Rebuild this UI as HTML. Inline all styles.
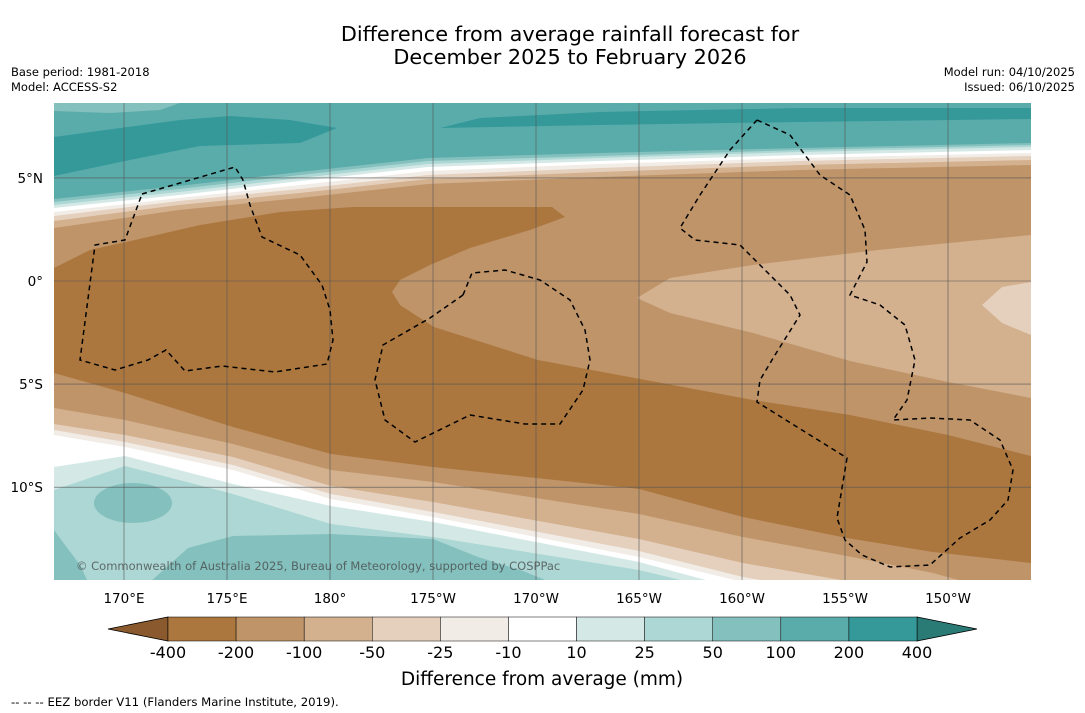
<!DOCTYPE html>
<html><head><meta charset="utf-8"><style>
body{margin:0;background:#fff;}
svg{display:block;font-family:"DejaVu Sans","Liberation Sans",sans-serif;}
</style></head><body>
<svg id="s" width="1085" height="713" viewBox="0 0 1085 713" xmlns="http://www.w3.org/2000/svg">
<defs><clipPath id="mc"><rect x="54" y="103" width="977" height="477"/></clipPath></defs>
<text x="570" y="41" text-anchor="middle" font-size="20.8" fill="#000">Difference from average rainfall forecast for</text>
<text x="570" y="64" text-anchor="middle" font-size="20.8" fill="#000">December 2025 to February 2026</text>
<text x="11" y="76" font-size="11.5">Base period: 1981-2018</text>
<text x="11" y="91" font-size="11.5">Model: ACCESS-S2</text>
<text x="1075" y="76" font-size="11.5" text-anchor="end">Model run: 04/10/2025</text>
<text x="1075" y="91" font-size="11.5" text-anchor="end">Issued: 06/10/2025</text>
<g id="map" clip-path="url(#mc)"></g>
<g id="ax"></g>
<g id="cb"></g>
<text x="542" y="685" text-anchor="middle" font-size="18.5">Difference from average (mm)</text>
<text x="11" y="706" font-size="11.7">--  --  -- EEZ border V11 (Flanders Marine Institute, 2019).</text>
</svg>
<script>
// colorbar data
const levels = ['-400','-200','-100','-50','-25','-10','10','25','50','100','200','400'];
const binColors = ['#ab773f','#bf9469','#d3b08e','#e4d0bd','#f2ece6','#ffffff','#d4e9e6','#acd7d4','#84c0bd','#5aacaa','#35999a'];
// axis ticks
const lonTicks = [170,175,180,-175,-170,-165,-160,-155,-150];
const lonLabels = ['170°E','175°E','180°','175°W','170°W','165°W','160°W','155°W','150°W'];
const latTicks = [5,0,-5,-10];
const latLabels = ['5°N','0°','5°S','10°S'];
// contour fronts (northern wet/dry transition)
const frontX = [54,179,300,428,600,800,1031];
const frontY = [
 [199,186,172,158,153,148,143],
 [202,189,175,161,156,150,145],
 [205,192,178,164,158,152,147],
 [208,195,181,167,161,155,150],
 [212,198,185,171,164,158,153],
 [216,201,189,175,168,161,156],
 [221,205,193,179,172,165,160],
 [228,210,198,184,177,170,165]];
const frontColors = ['#84c0bd','#acd7d4','#d4e9e6','#ffffff','#f2ece6','#e4d0bd','#d3b08e','#bf9469'];
// southern transition
const southX = [54,125,233,331,433,639,743,847,933,1031];
const southY = [
 [373,393,427,454,467,489,517,538,552,563],
 [408,420,444,470,482,514,537,556,573,600],
 [424,435,457,486,502,539,563,581,600,620],
 [430,442,465,494,512,551,577,595,615,635],
 [435,447,470,499,517,557,582,600,620,640],
 [467,456,484,506,522,562,590,610,630,650],
 [490,466,494,524,537,570,595,615,640,660]];
const southColors = ['#bf9469','#d3b08e','#e4d0bd','#f2ece6','#ffffff','#d4e9e6','#acd7d4'];
const darkCore = [[54,268],[90,250],[135,240],[200,225],[280,212],[353,207],[552,207],[565,217],[530,230],[470,248],[430,265],[400,280],[392,292],[400,305],[434,327],[538,360],[753,400],[850,415],[948,435],[1031,456],[1031,700],[54,700]];
const lens1 = [[637,298],[670,278],[753,265],[878,250],[1031,235],[1031,398],[948,382],[850,361],[753,333],[670,313]];
const lens2 = [[982,305],[1002,287],[1031,282],[1031,335],[1002,323]];
const tealDarkL = [[54,137],[120,128],[180,120],[230,116],[290,120],[337,128],[300,143],[200,146],[130,160],[54,176]];
const tealDarkR = [[440,128],[480,118],[600,112],[800,108],[1031,108],[1031,119],[800,122],[600,125]];
const tealLightTL = [[54,103],[180,103],[160,110],[110,113],[54,111]];
const wet84A = [[54,530],[65,545],[80,565],[88,582],[54,582]];
const wet84B = [[150,582],[188,548],[233,536],[331,534],[433,539],[478,557],[523,571],[550,582]];
const eezL = [[142,194],[180,183],[235,167],[243,180],[250,205],[262,237],[300,255],[322,285],[330,310],[333,340],[327,364],[275,372],[222,366],[185,371],[166,350],[148,360],[115,370],[80,360],[95,245],[125,240],[142,194]];
const eezM = [[463,295],[472,273],[505,270],[540,280],[570,300],[585,330],[590,360],[583,390],[560,424],[525,424],[470,415],[415,442],[385,420],[375,380],[383,345],[430,318],[463,295]];
const eezR = [[757,120],[790,135],[820,175],[850,195],[865,230],[867,262],[850,295],[880,305],[905,325],[915,360],[907,400],[893,420],[930,418],[970,420],[1000,440],[1013,470],[1008,500],[990,520],[960,538],[930,565],[890,567],[862,555],[845,540],[837,518],[847,458],[757,402],[760,380],[775,355],[800,315],[790,295],[760,265],[740,245],[695,240],[680,228],[700,195],[730,150],[757,120]];

const NS='http://www.w3.org/2000/svg';
const map=document.getElementById('map'), ax=document.getElementById('ax'), cb=document.getElementById('cb');
function mk(tag,attrs,parent){const e=document.createElementNS(NS,tag);for(const k in attrs)e.setAttribute(k,attrs[k]);parent.appendChild(e);return e;}
function pts(a){return a.map(p=>p[0]+','+p[1]).join(' ');}
const lonX = lon => 330 + ((lon<0?lon+360:lon)-180)*20.6;
const latY = lat => 281 - lat*20.62;

let e=mk('rect',{x:54,y:103,width:977,height:477,fill:'#5aacaa'},map);


[[tealLightTL,'#84c0bd'],[tealDarkL,'#35999a'],[tealDarkR,'#35999a']].forEach(([p,c])=>{
 const el=mk('polygon',{points:pts(p),fill:c},map);
 
 
});
frontY.forEach((ys,i)=>{
 const p=frontX.map((x,j)=>[x,ys[j]]).concat([[1031,700],[54,700]]);
 const el=mk('polygon',{points:pts(p),fill:frontColors[i]},map);
 
 
});
[[darkCore,'#ab773f'],[lens1,'#d3b08e'],[lens2,'#e4d0bd']].forEach(([p,c])=>{
 const el=mk('polygon',{points:pts(p),fill:c},map);
 
 
});
southY.forEach((ys,i)=>{
 const p=southX.map((x,j)=>[x,ys[j]]).concat([[1031,720],[54,720]]);
 const el=mk('polygon',{points:pts(p),fill:southColors[i]},map);
 
 
});
[wet84A,wet84B].forEach(p=>{
 const el=mk('polygon',{points:pts(p),fill:'#84c0bd'},map);
 
 
});
e=mk('ellipse',{cx:133,cy:503,rx:39,ry:20,fill:'#84c0bd'},map);


lonTicks.forEach((lon,i)=>{
 const x=lonX(lon);
 let l=mk('line',{x1:x,y1:103,x2:x,y2:580,stroke:'#555',"stroke-width":0.6},map);
 
 
 let t=mk('text',{x:x,y:603,"text-anchor":'middle',"font-size":13.5},ax);
 t.textContent=lonLabels[i];
 
 
});
latTicks.forEach((lat,i)=>{
 const y=latY(lat);
 let l=mk('line',{x1:54,y1:y,x2:1031,y2:y,stroke:'#555',"stroke-width":0.6},map);
 
 
 let t=mk('text',{x:43,y:y+5,"text-anchor":'end',"font-size":13.5},ax);
 t.textContent=latLabels[i];
 
 
});
[eezL,eezM,eezR].forEach(p=>{
 const el=mk('polyline',{points:pts(p),fill:'none',stroke:'#000',"stroke-width":1.5,"stroke-dasharray":'5,4'},map);
 
 
});
e=mk('text',{x:76,y:570,"font-size":11.5,fill:'#444',"fill-opacity":0.75},map);
e.textContent='© Commonwealth of Australia 2025, Bureau of Meteorology, supported by COSPPac';


const cbX0=168, cbX1=917, cbY=617, cbH=24, bw=(cbX1-cbX0)/binColors.length;
e=mk('polygon',{points:`108,${cbY+cbH/2} ${cbX0},${cbY} ${cbX0},${cbY+cbH}`,fill:'#8a5a2e',stroke:'#000',"stroke-width":0.8},cb);


e=mk('polygon',{points:`977,${cbY+cbH/2} ${cbX1},${cbY} ${cbX1},${cbY+cbH}`,fill:'#2a7a76',stroke:'#000',"stroke-width":0.8},cb);


binColors.forEach((c,i)=>{
 const r=mk('rect',{x:cbX0+i*bw,y:cbY,width:bw,height:cbH,fill:c,stroke:'#000',"stroke-width":0.5},cb);
 
 
});
levels.forEach((lv,i)=>{
 const t=mk('text',{x:cbX0+i*bw,y:658,"text-anchor":'middle',"font-size":16},cb);
 t.textContent=lv;
 
 
});
</script>
</body></html>
